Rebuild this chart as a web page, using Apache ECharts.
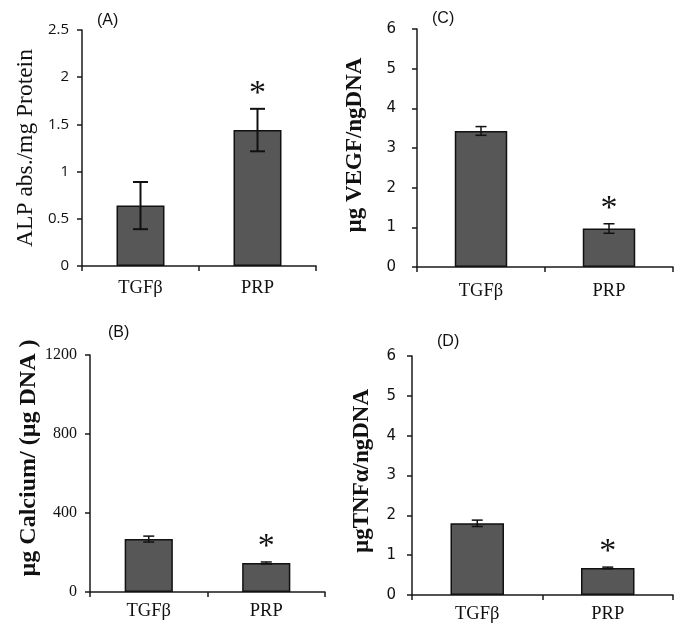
<!DOCTYPE html>
<html>
<head>
<meta charset="utf-8">
<script src="https://cdn.jsdelivr.net/npm/echarts@6/dist/echarts.min.js"></script>
<style>
html,body{margin:0;padding:0;background:#fff;}
#chart{width:688px;height:635px;}
</style>
</head>
<body>
<div id="chart"></div>
<script>
// ---- data ----
const categories = ['TGFβ', 'PRP'];
const significant = [false, true];

const alpMean = [0.64, 1.44];
const alpErr = [0.25, 0.225];
const alpTicks = { min: 0, max: 2.5, interval: 0.5 };

const calciumMean = [268, 147];
const calciumErr = [15, 5];
const calciumTicks = { min: 0, max: 1200, interval: 400 };

const vegfMean = [3.43, 0.97];
const vegfErr = [0.11, 0.12];
const vegfTicks = { min: 0, max: 6, interval: 1 };

const tnfMean = [1.80, 0.68];
const tnfErr = [0.08, 0.02];
const tnfTicks = { min: 0, max: 6, interval: 1 };

const panelLabels = ['(A)', '(B)', '(C)', '(D)'];
const yTitles = ['ALP abs./mg Protein', 'µg Calcium/ (µg DNA )', 'µg VEGF/ngDNA', 'µgTNFα/ngDNA'];

// ---- layout ----
const panels = [
  { mean: alpMean, err: alpErr, ticks: alpTicks, grid: { left: 82, top: 30, width: 234, height: 236 },
    tickFont: { fontFamily: 'Open Sans', fontSize: 15 }, titleFont: { fontFamily: 'Liberation Serif', fontSize: 23.5, fontWeight: 'normal' },
    nameGap: 44, namePad: 0, labelMargin: 13, tickLabelMargin: 13, capW: 15, errW: 2, label: [97, 22] },
  { mean: calciumMean, err: calciumErr, ticks: calciumTicks, grid: { left: 90, top: 355, width: 235, height: 237 },
    tickFont: { fontFamily: 'Liberation Serif', fontSize: 16 }, titleFont: { fontFamily: 'Liberation Serif', fontSize: 24, fontWeight: 'bold' },
    nameGap: 45, namePad: 31, labelMargin: 10, tickLabelMargin: 13, capW: 11, errW: 1.5, label: [108, 334] },
  { mean: vegfMean, err: vegfErr, ticks: vegfTicks, grid: { left: 417, top: 29, width: 256, height: 238 },
    tickFont: { fontFamily: 'DejaVu Sans', fontSize: 15 }, titleFont: { fontFamily: 'Liberation Serif', fontSize: 23, fontWeight: 'bold' },
    nameGap: 50, namePad: 6, labelMargin: 15, tickLabelMargin: 21, capW: 11, errW: 1.5, label: [432, 20] },
  { mean: tnfMean, err: tnfErr, ticks: tnfTicks, grid: { left: 412, top: 356, width: 261, height: 239 },
    tickFont: { fontFamily: 'DejaVu Sans', fontSize: 15 }, titleFont: { fontFamily: 'Liberation Serif', fontSize: 23, fontWeight: 'bold' },
    nameGap: 38, namePad: 9, labelMargin: 10, tickLabelMargin: 16, capW: 11, errW: 1.5, label: [437, 343] }
];

const axisColor = '#1a1a1a';
const grids = [], xAxes = [], yAxes = [], series = [], graphics = [];

panels.forEach((p, i) => {
  grids.push(Object.assign({ containLabel: false }, p.grid));
  xAxes.push({
    type: 'category', gridIndex: i, data: categories,
    axisLine: { lineStyle: { color: axisColor, width: 1.5 } },
    axisTick: { show: true, alignWithLabel: false, length: 5, lineStyle: { color: axisColor, width: 1.5 } },
    axisLabel: { color: '#111', fontFamily: 'Liberation Serif', fontSize: 18.5, margin: p.labelMargin },
    splitLine: { show: false }
  });
  yAxes.push({
    type: 'value', gridIndex: i, min: p.ticks.min, max: p.ticks.max, interval: p.ticks.interval,
    name: yTitles[i], nameLocation: 'middle', nameRotate: 90, nameGap: p.nameGap,
    nameTextStyle: Object.assign({ color: '#111', padding: [0, 0, 0, p.namePad] }, p.titleFont),
    axisLine: { show: true, lineStyle: { color: axisColor, width: 1.5 } },
    axisTick: { show: true, length: 5, lineStyle: { color: axisColor, width: 1.5 } },
    axisLabel: Object.assign({ color: '#111', margin: p.tickLabelMargin, formatter: v => String(v) }, p.tickFont),
    splitLine: { show: false }
  });
  series.push({
    type: 'bar', xAxisIndex: i, yAxisIndex: i, data: p.mean, barWidth: '41%',
    itemStyle: { color: '#575757', borderColor: '#111', borderWidth: 1.5 },
    silent: true, animation: false
  });
  const capW = p.capW, errW = p.errW;
  series.push({
    type: 'custom', xAxisIndex: i, yAxisIndex: i, z: 5, animation: false, silent: true,
    data: p.mean.map((m, k) => [k, m, p.err[k]]),
    renderItem: function (params, api) {
      const k = api.value(0), m = api.value(1), e = api.value(2);
      const top = api.coord([k, m + e]);
      const bot = api.coord([k, m - e]);
      const st = { stroke: '#111', lineWidth: errW };
      return { type: 'group', children: [
        { type: 'line', shape: { x1: top[0], y1: top[1], x2: bot[0], y2: bot[1] }, style: st },
        { type: 'line', shape: { x1: top[0] - capW / 2, y1: top[1], x2: top[0] + capW / 2, y2: top[1] }, style: st },
        { type: 'line', shape: { x1: bot[0] - capW / 2, y1: bot[1], x2: bot[0] + capW / 2, y2: bot[1] }, style: st }
      ]};
    }
  });
  series.push({
    type: 'custom', xAxisIndex: i, yAxisIndex: i, z: 6, animation: false, silent: true,
    data: p.mean.map((m, k) => [k, m + p.err[k], significant[k] ? 1 : 0]),
    renderItem: function (params, api) {
      if (!api.value(2)) return null;
      const pt = api.coord([api.value(0), api.value(1)]);
      return { type: 'text', x: pt[0], y: pt[1] - 15,
        style: { text: '*', font: '34px "Liberation Serif"', fill: '#111', align: 'center', verticalAlign: 'middle' } };
    }
  });
  graphics.push({ type: 'text', left: p.label[0], top: p.label[1] - 9,
    style: { text: panelLabels[i], font: '16px "Liberation Sans"', fill: '#111' } });
});

const chart = echarts.init(document.getElementById('chart'), null, { renderer: 'canvas' });
chart.setOption({
  backgroundColor: '#fff',
  animation: false,
  grid: grids, xAxis: xAxes, yAxis: yAxes, series: series, graphic: graphics
});
</script>
</body>
</html>
